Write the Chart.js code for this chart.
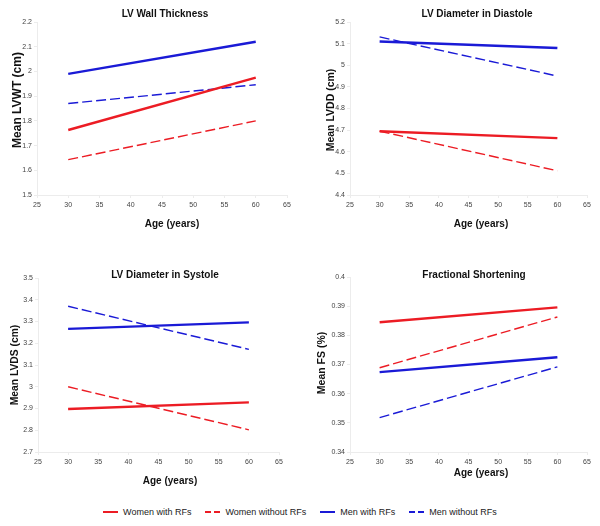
<!DOCTYPE html>
<html>
<head>
<meta charset="utf-8">
<script src="https://cdn.jsdelivr.net/npm/chart.js@4.4.0/dist/chart.umd.min.js"></script>
<style>
    body { margin: 0; background: #fff; font-family: "Liberation Sans", Arial, sans-serif; }
    #page { position: relative; width: 600px; height: 526px; }
    .panel { position: absolute; width: 300px; height: 250px; }
    #legend { position: absolute; left: 0; top: 507px; width: 600px; display: flex; justify-content: center; font-size: 9px; color: #222; }
    .item { display: flex; align-items: center; margin: 0 7px; }
    .swatch { width: 15px; height: 2px; margin-right: 5px; }
</style>
</head>
<body>
<div id="page">
    <div class="panel" style="left:0;top:0"><canvas id="c1"></canvas></div>
    <div class="panel" style="left:300px;top:0"><canvas id="c2"></canvas></div>
    <div class="panel" style="left:0;top:250px"><canvas id="c3"></canvas></div>
    <div class="panel" style="left:300px;top:250px"><canvas id="c4"></canvas></div>
    <div id="legend"></div>
</div>
<script>
// data
const ages = [30, 60];
const seriesNames = ['Women with RFs', 'Women without RFs', 'Men with RFs', 'Men without RFs'];

const lvwtWomenRF = [1.763, 1.975];
const lvwtWomenNoRF = [1.643, 1.800];
const lvwtMenRF = [1.990, 2.120];
const lvwtMenNoRF = [1.870, 1.946];

const lvddWomenRF = [4.695, 4.663];
const lvddWomenNoRF = [4.695, 4.512];
const lvddMenRF = [5.110, 5.080];
const lvddMenNoRF = [5.131, 4.950];

const lvdsWomenRF = [2.898, 2.928];
const lvdsWomenNoRF = [3.000, 2.802];
const lvdsMenRF = [3.266, 3.296];
const lvdsMenNoRF = [3.370, 3.172];

const fsWomenRF = [0.3845, 0.3896];
const fsWomenNoRF = [0.3689, 0.3863];
const fsMenRF = [0.3674, 0.3725];
const fsMenNoRF = [0.3518, 0.3692];

const xTicks = [25, 30, 35, 40, 45, 50, 55, 60, 65];

// line styles, same order as seriesNames
const red = '#ec1c24';
const blue = '#1a1ad6';
const styles = [
    { color: red, width: 2.4, dash: [] },
    { color: red, width: 1.4, dash: [10, 4] },
    { color: blue, width: 2.4, dash: [] },
    { color: blue, width: 1.4, dash: [10, 4] }
];

// draws the panel title and axis titles at fixed spots
const panelText = {
    id: 'panelText',
    afterDraw(chart, args, o) {
        const ctx = chart.ctx;
        ctx.save();
        ctx.fillStyle = '#111';
        ctx.textAlign = 'center';
        ctx.textBaseline = 'middle';
        ctx.font = 'bold 10px "Liberation Sans", Arial, sans-serif';
        ctx.fillText(o.title, o.titleAt[0], o.titleAt[1]);
        ctx.fillText('Age (years)', o.xTitleAt[0], o.xTitleAt[1]);
        ctx.translate(o.yTitleAt[0], o.yTitleAt[1]);
        ctx.rotate(-Math.PI / 2);
        ctx.font = 'bold ' + o.yTitleSize + 'px "Liberation Sans", Arial, sans-serif';
        ctx.fillText(o.yTitle, 0, 0);
        ctx.restore();
    }
};

function fmt(v) {
    return String(Number(v.toFixed(3)));
}

function makePanel(id, values, yMin, yMax, yStep, box, text) {
    const datasets = values.map((vals, i) => ({
        label: seriesNames[i],
        data: ages.map((a, j) => ({ x: a, y: vals[j] })),
        showLine: true,
        borderColor: styles[i].color,
        borderWidth: styles[i].width,
        borderDash: styles[i].dash,
        pointRadius: 0
    }));
    const axisColor = '#ececec';
    new Chart(document.getElementById(id), {
        type: 'scatter',
        data: { datasets },
        options: {
            responsive: true,
            maintainAspectRatio: false,
            animation: false,
            layout: { padding: { left: 0, top: box.top, right: 300 - box.right, bottom: 0 } },
            plugins: {
                legend: { display: false },
                tooltip: { enabled: false },
                panelText: text
            },
            scales: {
                x: {
                    type: 'linear',
                    min: 25, max: 65,
                    afterBuildTicks: s => { s.ticks = xTicks.map(v => ({ value: v })); },
                    afterFit: s => { s.height = 250 - box.bottom; },
                    grid: { drawOnChartArea: false, tickLength: 3, color: axisColor },
                    border: { color: axisColor },
                    ticks: { autoSkip: false, maxRotation: 0, padding: 3, color: '#444', font: { size: 7 } }
                },
                y: {
                    min: yMin, max: yMax,
                    ticks: { stepSize: yStep, padding: 2, color: '#444', font: { size: 7 }, callback: fmt },
                    afterFit: s => { s.width = box.left; },
                    grid: { drawOnChartArea: false, tickLength: 3, color: axisColor },
                    border: { color: axisColor }
                }
            }
        },
        plugins: [panelText]
    });
}

makePanel('c1', [lvwtWomenRF, lvwtWomenNoRF, lvwtMenRF, lvwtMenNoRF], 1.5, 2.2, 0.1,
    { left: 37, top: 22, right: 287, bottom: 195 },
    { title: 'LV Wall Thickness', titleAt: [165, 14], xTitleAt: [172, 224], yTitle: 'Mean LVWT (cm)', yTitleAt: [18, 100], yTitleSize: 12 });

makePanel('c2', [lvddWomenRF, lvddWomenNoRF, lvddMenRF, lvddMenNoRF], 4.4, 5.2, 0.1,
    { left: 50, top: 22, right: 287, bottom: 195 },
    { title: 'LV Diameter in Diastole', titleAt: [177, 14], xTitleAt: [181, 224], yTitle: 'Mean LVDD (cm)', yTitleAt: [31, 110], yTitleSize: 10.5 });

makePanel('c3', [lvdsWomenRF, lvdsWomenNoRF, lvdsMenRF, lvdsMenNoRF], 2.7, 3.5, 0.1,
    { left: 38, top: 28, right: 279, bottom: 202 },
    { title: 'LV Diameter in Systole', titleAt: [165, 25], xTitleAt: [170, 231], yTitle: 'Mean LVDS (cm)', yTitleAt: [15, 115], yTitleSize: 10.3 });

makePanel('c4', [fsWomenRF, fsWomenNoRF, fsMenRF, fsMenNoRF], 0.34, 0.4, 0.01,
    { left: 50, top: 27, right: 287, bottom: 202 },
    { title: 'Fractional Shortening', titleAt: [174, 25], xTitleAt: [181, 223], yTitle: 'Mean FS (%)', yTitleAt: [22, 113], yTitleSize: 10.5 });

// legend below the panels, dashed swatches drawn as two dashes
const legend = document.getElementById('legend');
seriesNames.forEach((name, i) => {
    const item = document.createElement('div');
    item.className = 'item';
    const sw = document.createElement('span');
    sw.className = 'swatch';
    const c = styles[i].color;
    sw.style.background = i % 2
        ? `linear-gradient(to right, ${c} 0 6px, transparent 6px 9px, ${c} 9px 15px)`
        : c;
    const label = document.createElement('span');
    label.textContent = name;
    item.appendChild(sw);
    item.appendChild(label);
    legend.appendChild(item);
});
</script>
</body>
</html>
